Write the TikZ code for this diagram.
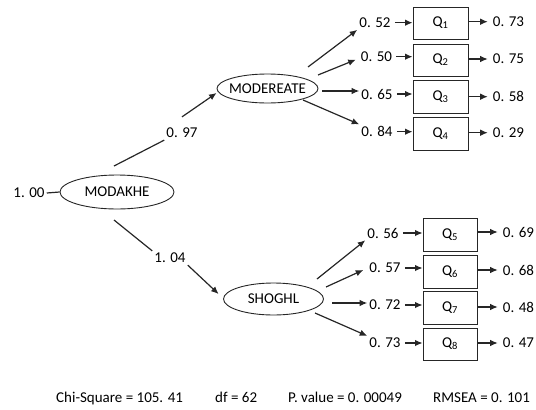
\documentclass[tikz,border=0pt]{standalone}
\usepackage{fontspec}
\setmainfont{Carlito}
\usetikzlibrary{shapes.geometric,arrows.meta,calc}
\begin{document}
\begin{tikzpicture}[x=1pt,y=1pt,
  font=\fontsize{15}{18}\selectfont, text=black,
  latent/.style={draw=black!85, line width=0.9pt, ellipse, inner sep=0pt},
  item/.style={draw=black!85, line width=0.9pt, minimum width=55pt, minimum height=32pt, inner sep=0pt},
  num/.style={inner sep=2pt},
  fit/.style={anchor=base west, inner sep=0pt},
  link/.style={draw=black!85, line width=1.2pt},
  arr/.style={link, -{Latex[length=7.5pt,width=6.5pt]}}]
\useasboundingbox (0,0) rectangle (536,-410);

% latent variables
\node[latent, minimum width=114pt, minimum height=34pt] (mod) at (117,-192) {\makebox[0pt]{MODAKHE}};
\node[latent, minimum width=101pt, minimum height=29pt] (modr) at (267.5,-88.5) {\makebox[0pt]{MODEREATE}};
\node[latent, minimum width=100pt, minimum height=32pt] (sh) at (273.5,-299) {\makebox[0pt]{SHOGHL}};

% observed items
\node[item] (q1) at (440.5,-23) {Q\textsubscript{1}};
\node[item] (q2) at (440.5,-60) {Q\textsubscript{2}};
\node[item, minimum height=33pt] (q3) at (440.5,-96.5) {Q\textsubscript{3}};
\node[item, minimum height=33pt] (q4) at (440.5,-133.5) {Q\textsubscript{4}};
\node[item, minimum width=54pt, minimum height=33pt] (q5) at (450,-234.5) {Q\textsubscript{5}};
\node[item, minimum width=54pt, minimum height=33pt] (q6) at (450,-271.5) {Q\textsubscript{6}};
\node[item, minimum width=54pt, minimum height=33pt] (q7) at (450,-307.5) {Q\textsubscript{7}};
\node[item, minimum width=54pt] (q8) at (450,-344) {Q\textsubscript{8}};

% loadings
\node[num] (l100) at (29,-193) {1. 00};
\node[num] (l97) at (182,-133) {0. 97};
\node[num] (l104) at (170,-258) {1. 04};
\node[num] (l1) at (375,-22.7) {0. 52};
\node[num] (l2) at (376.5,-56.7) {0. 50};
\node[num] (l3) at (377,-94) {0. 65};
\node[num] (l4) at (377,-131.7) {0. 84};
\node[num] (l5) at (383,-233) {0. 56};
\node[num] (l6) at (385,-268) {0. 57};
\node[num] (l7) at (385,-305) {0. 72};
\node[num] (l8) at (385,-343) {0. 73};

% error variances
\node[num] (r1) at (508.5,-21.7) {0. 73};
\node[num] (r2) at (508.5,-59) {0. 75};
\node[num] (r3) at (508.5,-96.7) {0. 58};
\node[num] (r4) at (508.5,-132.7) {0. 29};
\node[num] (r5) at (518.5,-232) {0. 69};
\node[num] (r6) at (518.5,-270) {0. 68};
\node[num] (r7) at (518.5,-307) {0. 48};
\node[num] (r8) at (518.5,-343) {0. 47};

% second-order paths
\draw[link] (l100.east) -- (mod.west);
\draw[link] ([shift={(-3,26)}]mod.center) -- (l97.south west);
\draw[arr] ([yshift=9]l97.north) -- ([yshift=-4.5]modr.west);
\draw[link] ([shift={(-3,-28)}]mod.center) -- (l104.north west);
\draw[arr] (l104.south east) -- ([shift={(-4.5,5)}]sh.west);

% first factor
\draw[arr] ([shift={(40.5,21.5)}]modr.center) -- (l1.south west);
\draw[arr] ([shift={(50.5,13.5)}]modr.center) -- ([shift={(-3,-3)}]l2.west);
\draw[arr] ([shift={(54.5,-2.5)}]modr.center) -- ([yshift=3]l3.west);
\draw[arr] ([shift={(35.5,-11.5)}]modr.center) -- (l4.north west);

% second factor
\draw[arr] ([shift={(43.5,20)}]sh.center) -- (l5.south west);
\draw[arr] ([shift={(52.5,12)}]sh.center) -- ([shift={(-4,-2)}]l6.west);
\draw[arr] ([shift={(58.5,-4)}]sh.center) -- ([yshift=2]l7.west);
\draw[arr] ([shift={(41.5,-14)}]sh.center) -- (l8.north west);

% loading to item
\foreach \i in {1,...,8}{
  \draw[arr, shorten <=2pt] (l\i.east) -- (l\i.east -| q\i.west);
  \draw[arr, shorten >=3pt, shorten <=1pt] (q\i.east |- r\i.west) -- (r\i.west);
}

% fit indices
\node[fit] (chi) at (56,-402.5) {Chi-Square = 105. 41};
\node[fit] (df) at (215,-402.5) {df = 62};
\node[fit] (pv) at (288,-402.5) {P. value = 0. 00049};
\node[fit] (rm) at (433,-402.5) {RMSEA = 0. 101};
\end{tikzpicture}
\end{document}
